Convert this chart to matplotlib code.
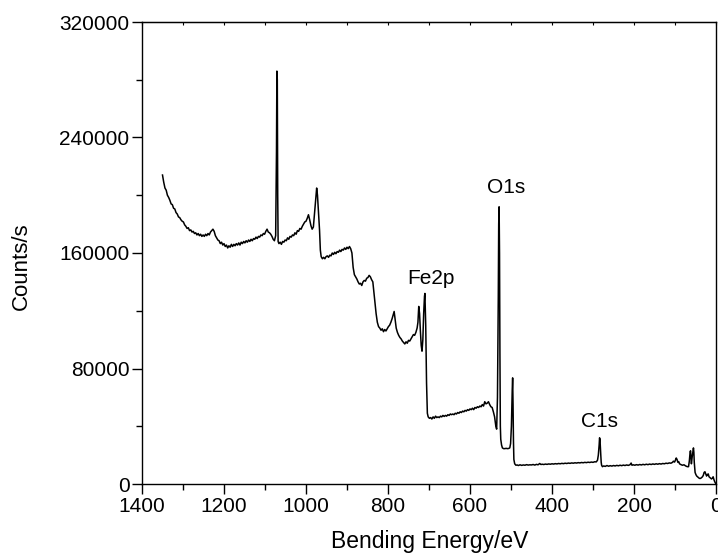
import numpy as np
import matplotlib.pyplot as plt
from matplotlib.ticker import MultipleLocator

plt.rcParams['font.family'] = ['Liberation Sans', 'DejaVu Sans']

# XPS survey spectrum (binding energy in eV, counts/s)
spectrum = [
    (1350, 214000), (1347, 209000), (1344, 205000), (1341, 203500), (1338, 200000),
    (1335, 198500), (1332, 196500), (1329, 194000), (1326, 193500), (1323, 191000),
    (1320, 190500), (1317, 188000), (1314, 187000), (1311, 185000), (1308, 184500),
    (1305, 183000), (1302, 182000), (1299, 181500), (1296, 179500), (1293, 178500),
    (1290, 177000), (1287, 177500), (1284, 175500), (1281, 176000), (1278, 174500),
    (1275, 175000), (1272, 173500), (1269, 174000), (1266, 172500), (1263, 173500),
    (1260, 172000), (1257, 173000), (1254, 171500), (1251, 172500), (1248, 171500),
    (1245, 173000), (1242, 172000), (1239, 173500), (1236, 172500), (1233, 174500),
    (1230, 175500), (1227, 176500), (1224, 175000), (1221, 172000), (1218, 170500),
    (1215, 169000), (1212, 168500), (1209, 166500), (1206, 167500), (1203, 165500),
    (1200, 166500), (1197, 164500), (1194, 165500), (1191, 163500), (1188, 165000),
    (1185, 164000), (1182, 166000), (1179, 164500), (1176, 166000), (1173, 165000),
    (1170, 166500), (1167, 165500), (1164, 167000), (1161, 165500), (1158, 167500),
    (1155, 166500), (1152, 168000), (1149, 167000), (1146, 168500), (1143, 167500),
    (1140, 169000), (1137, 168000), (1134, 169500), (1131, 168500), (1128, 170000),
    (1125, 169500), (1122, 171000), (1119, 170000), (1116, 171500), (1113, 171000),
    (1110, 172500), (1107, 172000), (1104, 173500), (1101, 173000), (1098, 175000),
    (1095, 176500), (1092, 174500), (1089, 174000), (1086, 173000), (1083, 171500),
    (1080, 169500), (1077, 168500), (1074, 172000), (1072, 230000), (1071, 286000),
    (1070, 280000), (1069, 200000), (1068, 168000), (1066, 166500), (1063, 167500),
    (1060, 166000), (1057, 168000), (1054, 167500), (1051, 169000), (1048, 168500),
    (1045, 170500), (1042, 169500), (1039, 171500), (1036, 171000), (1033, 172500),
    (1030, 172000), (1027, 174000), (1024, 173000), (1021, 175500), (1018, 175000),
    (1015, 177000), (1012, 176500), (1009, 178500), (1006, 180000), (1003, 181500),
    (1000, 182000), (997, 184000), (994, 186500), (991, 183000), (988, 179000),
    (985, 176500), (982, 178000), (979, 188000), (976, 198000), (974, 205000),
    (972, 200000), (970, 190000), (967, 176000), (965, 162000), (963, 157500),
    (960, 156000), (957, 157000), (954, 156000), (951, 157500), (948, 158000),
    (945, 157000), (942, 158500), (939, 158000), (936, 160000), (933, 159000),
    (930, 160500), (927, 159500), (924, 161000), (921, 160500), (918, 162000),
    (915, 161000), (912, 162500), (909, 162000), (906, 163500), (903, 162500),
    (900, 164000), (897, 163000), (894, 164500), (891, 163000), (888, 160000),
    (885, 150000), (882, 145000), (879, 143500), (876, 142000), (873, 140000),
    (870, 138500), (867, 139000), (864, 137500), (861, 140000), (858, 141000),
    (855, 140500), (852, 142500), (849, 143000), (846, 144500), (843, 143500),
    (840, 141500), (837, 140000), (834, 132000), (831, 124000), (829, 118000),
    (826, 112000), (823, 109000), (820, 108000), (817, 106500), (814, 107500),
    (811, 105500), (808, 107000), (805, 106000), (802, 107500), (799, 109000),
    (796, 110000), (793, 112000), (790, 114500), (787, 117500), (785, 119500),
    (783, 115000), (780, 108000), (777, 105000), (774, 103000), (771, 101500),
    (768, 100500), (765, 99000), (762, 98000), (759, 97000), (756, 98500),
    (753, 97500), (750, 99500), (747, 99000), (744, 100500), (741, 102000),
    (738, 103500), (735, 103000), (732, 105000), (729, 108000), (727, 112000),
    (725, 123000), (723, 118000), (721, 106000), (719, 96000), (717, 92000),
    (715, 100000), (713, 118000), (711, 130000), (710, 132000), (708, 110000),
    (706, 70000), (704, 49000), (702, 46500), (699, 45500), (696, 46000),
    (693, 45000), (690, 46500), (687, 45500), (684, 47000), (681, 46000),
    (678, 46500), (675, 46000), (672, 47000), (669, 46500), (666, 47500),
    (663, 46800), (660, 47500), (657, 47000), (654, 48000), (651, 47500),
    (648, 48500), (645, 48000), (642, 48500), (639, 48000), (636, 49000),
    (633, 48500), (630, 49500), (627, 49000), (624, 50000), (621, 49500),
    (618, 50500), (615, 50000), (612, 51000), (609, 50500), (606, 51500),
    (603, 51000), (600, 52000), (597, 51500), (594, 52500), (591, 51500),
    (588, 53000), (585, 52500), (582, 53500), (579, 53000), (576, 54000),
    (573, 53500), (570, 55000), (567, 54000), (564, 57000), (561, 55500),
    (558, 56000), (555, 57000), (552, 55000), (549, 53500), (546, 53000),
    (543, 50000), (540, 46500), (537, 40000), (535, 38000), (533, 60000),
    (531, 130000), (530, 180000), (529, 192000), (528, 160000), (527, 90000),
    (526, 40000), (525, 31000), (523, 27000), (521, 25000), (518, 24500),
    (515, 24500), (512, 24700), (509, 24500), (506, 24600), (503, 25000),
    (501, 28000), (499, 40000), (497, 65000), (496, 73500), (495, 55000),
    (494, 30000), (493, 17000), (491, 14000), (488, 13000), (485, 13200),
    (482, 12800), (478, 13300), (474, 12900), (470, 13200), (466, 13000),
    (462, 13400), (458, 13100), (454, 13300), (450, 13200), (446, 13500),
    (442, 13100), (438, 13600), (434, 13300), (430, 14200), (427, 13500),
    (424, 13700), (420, 13500), (416, 13800), (412, 13600), (408, 13900),
    (404, 13700), (400, 14000), (396, 13800), (392, 14100), (388, 13900),
    (384, 14200), (380, 14000), (376, 14300), (372, 14100), (368, 14400),
    (364, 14200), (360, 14500), (356, 14300), (352, 14600), (348, 14400),
    (344, 14700), (340, 14500), (336, 14800), (332, 14600), (328, 14900),
    (324, 14700), (320, 15000), (316, 14800), (312, 15100), (308, 14900),
    (304, 15200), (300, 15000), (296, 15400), (292, 15300), (289, 16500),
    (287, 20000), (285, 27000), (284, 32000), (283, 31000), (282, 25000),
    (281, 20000), (280, 15000), (279, 13000), (277, 12000), (274, 12500),
    (270, 12200), (266, 12800), (262, 12300), (258, 12700), (254, 12400),
    (250, 12800), (246, 12500), (242, 12900), (238, 12600), (234, 13000),
    (230, 12700), (226, 13100), (222, 12800), (218, 13200), (214, 12900),
    (210, 13300), (207, 14500), (205, 13000), (202, 13300), (198, 13000),
    (194, 13400), (190, 13100), (186, 13500), (182, 13200), (178, 13600),
    (174, 13300), (170, 13700), (166, 13400), (162, 13800), (158, 13500),
    (154, 13900), (150, 13600), (146, 14000), (142, 13700), (138, 14100),
    (134, 13800), (130, 14200), (126, 14000), (122, 14400), (118, 14200),
    (114, 14600), (110, 14400), (106, 15000), (104, 15800), (101, 15200),
    (99, 16500), (97, 18000), (95, 17000), (93, 15000), (91, 15500),
    (89, 14000), (86, 13500), (82, 13000), (78, 13300), (74, 12500),
    (70, 12000), (67, 12000), (65, 16000), (63, 22500), (62, 23000),
    (61, 18000), (60, 14000), (58, 19000), (56, 23000), (55, 25000),
    (54, 22000), (53, 15000), (51, 8000), (49, 6500), (47, 5500),
    (45, 5000), (43, 4500), (41, 4000), (39, 3800), (37, 4000),
    (35, 4500), (33, 5000), (31, 6000), (29, 8000), (27, 8500),
    (25, 7000), (23, 5500), (21, 6500), (19, 7000), (17, 5000),
    (15, 4500), (13, 4000), (11, 3500), (9, 4000), (7, 5000),
    (5, 3000), (3, 1500), (1, 500),
]
energy = np.array([p[0] for p in spectrum])
counts = np.array([p[1] for p in spectrum])

peak_labels = ["O1s", "Fe2p", "C1s"]
label_x = [558, 752, 329]
label_y = [201500, 138300, 39300]

fig = plt.figure(figsize=(7.18, 5.53), dpi=100)
ax = fig.add_axes([142 / 718, 69 / 553, 574 / 718, 462 / 553])

ax.plot(energy, counts, color='black', lw=1.1)

ax.set_xlim(1400, 0)
ax.set_ylim(0, 320000)
ax.xaxis.set_major_locator(MultipleLocator(200))
ax.xaxis.set_minor_locator(MultipleLocator(100))
ax.yaxis.set_major_locator(MultipleLocator(80000))
ax.yaxis.set_minor_locator(MultipleLocator(40000))
ax.tick_params(which='major', direction='out', length=7, width=1, labelsize=15, pad=2)
ax.tick_params(which='minor', direction='out', length=4, width=1)
for s in ax.spines.values():
    s.set_linewidth(1.0)

# tiny inward ticks along the top frame
top = ax.secondary_xaxis('top')
top.xaxis.set_major_locator(MultipleLocator(100))
top.tick_params(direction='in', length=2, width=0.8, labeltop=False)

for txt, xx, yy in zip(peak_labels, label_x, label_y):
    ax.text(xx, yy, txt, fontsize=15, ha='left', va='baseline')

fig.text(430 / 718, 5 / 553, "Bending Energy/eV", fontsize=16.5, ha='center', va='baseline')
fig.text(21 / 718, 1 - 266 / 553, "Counts/s", fontsize=16, rotation=90, ha='center', va='center')

fig.savefig("out.png", dpi=100)
